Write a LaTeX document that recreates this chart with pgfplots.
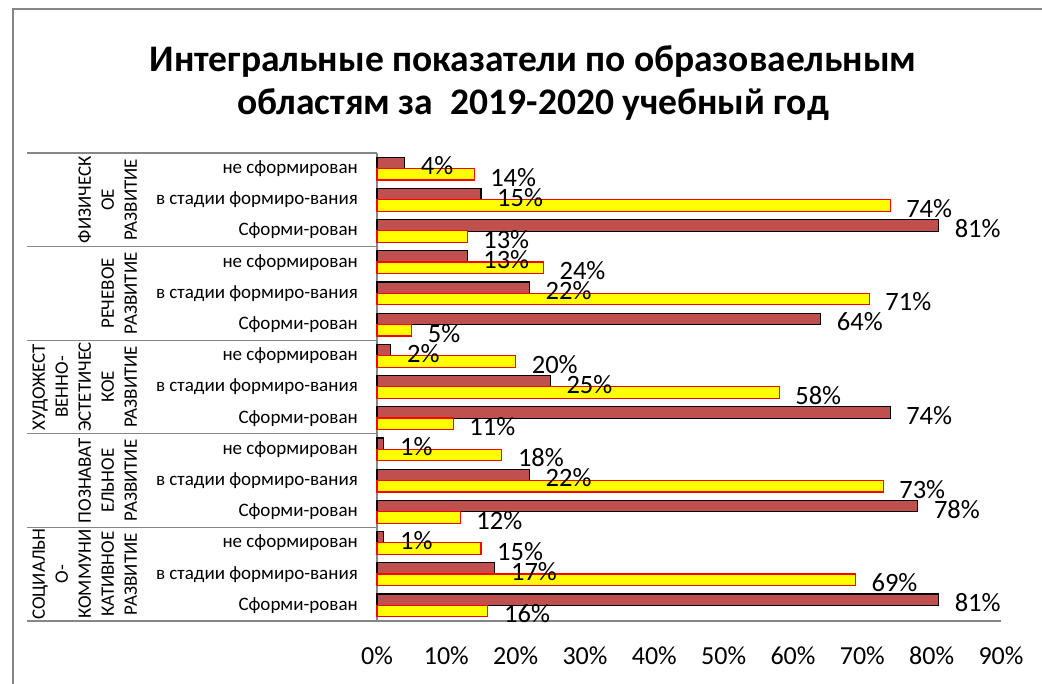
\documentclass[border=0pt]{standalone}
\usepackage{fontspec}
\setmainfont{Carlito}
\usepackage{pgfplots}
\usepackage{pgfplotstable}
\pgfplotsset{compat=1.18}
\definecolor{barred}{HTML}{C0504D}
\definecolor{baryellow}{HTML}{FFFF00}
\definecolor{axgray}{HTML}{868686}

\pgfplotstableread{
y val
14 4
13 15
12 81
11 13
10 22
9 64
8 2
7 25
6 74
5 1
4 22
3 78
2 1
1 17
0 81
}\reddata

\pgfplotstableread{
y val
14 14
13 74
12 13
11 24
10 71
9 5
8 20
7 58
6 11
5 18
4 73
3 12
2 15
1 69
0 16
}\yellowdata

\begin{document}
\begin{tikzpicture}[x=1bp,y=1bp]
\useasboundingbox (0,0) rectangle (1042,684);
\draw[axgray, line width=1.5bp] (1060,675) -- (13,675) -- (13,-20);
\node[font=\fontsize{37.5bp}{43bp}\selectfont\bfseries, align=center] at (533,601)
  {Интегральные показатели по образоваельным\\областям за\ \ 2019-2020 учебный год};
\begin{axis}[
  at={(377bp,63bp)}, anchor=south west, scale only axis,
  width=624bp, height=468bp,
  xbar, bar width=0.37,
  xmin=0, xmax=90, ymin=-0.5, ymax=14.5,
  axis x line*=bottom, axis y line*=left,
  axis line style={axgray, line width=1.2bp, -},
  major tick length=0pt,
  xtick={0,10,...,90},
  xticklabel={\pgfmathprintnumber{\tick}\%},
  xticklabel style={anchor=center, inner sep=0pt, yshift=-35bp, font=\fontsize{26bp}{31bp}\selectfont},
  ytick={0,...,14},
  yticklabels={Сформи-рован, в стадии формиро-вания, не сформирован,
               Сформи-рован, в стадии формиро-вания, не сформирован,
               Сформи-рован, в стадии формиро-вания, не сформирован,
               Сформи-рован, в стадии формиро-вания, не сформирован,
               Сформи-рован, в стадии формиро-вания, не сформирован},
  yticklabel style={anchor=east, inner sep=0pt, xshift=-19bp, font=\fontsize{19bp}{23bp}\selectfont},
  /pgf/number format/assume math mode=true,
  clip=false,
]
\addplot[fill=barred, draw=black, line width=1.1bp, bar shift=0.18] table[x=val, y=y] {\reddata};
\addplot[fill=baryellow, draw=red, line width=1.1bp, bar shift=-0.18] table[x=val, y=y] {\yellowdata};
\addplot[draw=none, fill=none, bar shift=0.18, point meta=x,
  nodes near coords={\pgfmathprintnumber{\pgfplotspointmeta}\%},
  nodes near coords style={anchor=west, inner sep=0pt, xshift=16bp, yshift=-3bp, text=black, font=\fontsize{26.5bp}{31bp}\selectfont}]
  table[x=val, y=y] {\reddata};
\addplot[draw=none, fill=none, bar shift=-0.18, point meta=x,
  nodes near coords={\pgfmathprintnumber{\pgfplotspointmeta}\%},
  nodes near coords style={anchor=west, inner sep=0pt, xshift=16bp, yshift=-3bp, text=black, font=\fontsize{26.5bp}{31bp}\selectfont}]
  table[x=val, y=y] {\yellowdata};
\draw[axgray, line width=1.2bp] (axis cs:-50.5,14.5) -- (axis cs:0,14.5);
\draw[axgray, line width=1.2bp] (axis cs:-50.5,11.5) -- (axis cs:0,11.5);
\draw[axgray, line width=1.2bp] (axis cs:-50.5,8.5) -- (axis cs:0,8.5);
\draw[axgray, line width=1.2bp] (axis cs:-50.5,5.5) -- (axis cs:0,5.5);
\draw[axgray, line width=1.2bp] (axis cs:-50.5,2.5) -- (axis cs:0,2.5);
\draw[axgray, line width=1.2bp] (axis cs:-50.5,-0.5) -- (axis cs:0,-0.5);
\node[rotate=90, anchor=south, align=center, inner sep=0pt, font=\fontsize{19bp}{23bp}\selectfont] at (axis cs:-34.6,13) {ФИЗИЧЕСК\\ОЕ\\РАЗВИТИЕ};
\node[rotate=90, anchor=south, align=center, inner sep=0pt, font=\fontsize{19bp}{23bp}\selectfont] at (axis cs:-34.6,10) {РЕЧЕВОЕ\\РАЗВИТИЕ};
\node[rotate=90, anchor=south, align=center, inner sep=0pt, font=\fontsize{19bp}{23bp}\selectfont] at (axis cs:-34.6,7) {ХУДОЖЕСТ\\ВЕННО-\\ЭСТЕТИЧЕС\\КОЕ\\РАЗВИТИЕ};
\node[rotate=90, anchor=south, align=center, inner sep=0pt, font=\fontsize{19bp}{23bp}\selectfont] at (axis cs:-34.6,4) {ПОЗНАВАТ\\ЕЛЬНОЕ\\РАЗВИТИЕ};
\node[rotate=90, anchor=south, align=center, inner sep=0pt, font=\fontsize{19bp}{23bp}\selectfont] at (axis cs:-34.6,1) {СОЦИАЛЬН\\О-\\КОММУНИ\\КАТИВНОЕ\\РАЗВИТИЕ};
\end{axis}
\end{tikzpicture}
\end{document}
